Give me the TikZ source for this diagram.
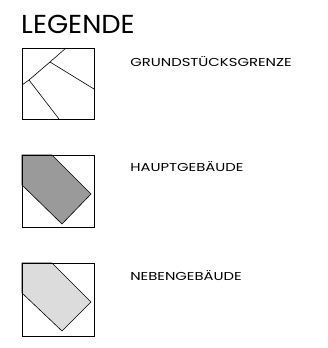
\documentclass[tikz,border=0pt]{standalone}
\usepackage{fontspec}
\setmainfont{Poppins}
\definecolor{hauptgrau}{HTML}{9A9A9A}
\definecolor{nebengrau}{HTML}{DCDCDC}
\tikzset{
    legrahmen/.style={draw, line width=0.8pt},
    legtext/.style={anchor=base west, inner sep=0pt, xscale=1.29, font=\fontsize{11.5}{13}\selectfont},
    gebaeude/.style={draw, line width=0.6pt}
}
\begin{document}
\begin{tikzpicture}[x=1pt, y=-1pt]
    \useasboundingbox (0,0) rectangle (327,348);
    \path node[anchor=base west, inner sep=0pt, xscale=1.05, font=\fontsize{26}{28}\selectfont] (titel) at (21,33) {LEGENDE};
    % Grundstuecksgrenze
    \draw[legrahmen] (22,48) rectangle (94,119);
    \path coordinate (G1) at (50,62)
        coordinate (G2) at (29,80);
    \draw[line width=0.6pt] (66,48) -- (G1) -- (94,89);
    \draw[line width=0.6pt] (G1) -- (G2) -- (22,85);
    \draw[line width=0.6pt] (G2) -- (59,119);
    \path node[legtext] (grenze) at (130,66) {GRUNDSTÜCKSGRENZE};
    % Hauptgebaeude
    \draw[gebaeude, fill=hauptgrau] (22,155) -- (52,155) -- (91,194) -- (62,224) -- (22,185) -- cycle;
    \draw[legrahmen] (22,155) rectangle (94,227);
    \path node[legtext] (haupt) at (130,171) {HAUPTGEBÄUDE};
    % Nebengebaeude
    \draw[gebaeude, fill=nebengrau] (22,263) -- (52,263) -- (91,302) -- (62,331) -- (22,293) -- cycle;
    \draw[legrahmen] (22,263) rectangle (94,336);
    \path node[legtext] (neben) at (130,280) {NEBENGEBÄUDE};
\end{tikzpicture}
\end{document}
